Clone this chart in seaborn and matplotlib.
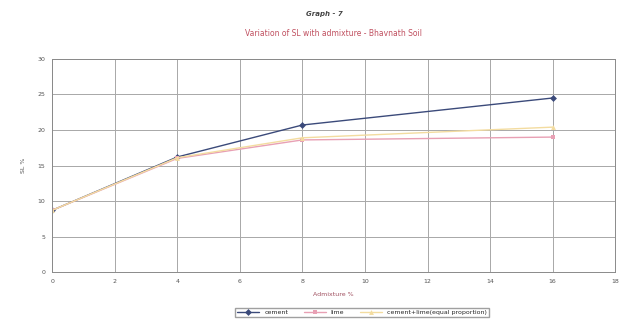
import matplotlib
matplotlib.use("Agg")
import matplotlib.pyplot as plt
import seaborn as sns
import pandas as pd

# Shrinkage limit (%) against admixture content (%)
admixture = [0, 4, 8, 16]
sl_cement = [8.7, 16.2, 20.7, 24.5]
sl_lime = [8.7, 16.0, 18.6, 19.0]
sl_cement_lime = [8.7, 16.1, 18.9, 20.4]

series_names = ["cement", "lime", "cement+lime(equal proportion)"]
x_ticks = [0, 2, 4, 6, 8, 10, 12, 14, 16, 18]
y_ticks = [0, 5, 10, 15, 20, 25, 30]

df = pd.DataFrame({
    "admixture": admixture * 3,
    "sl": sl_cement + sl_lime + sl_cement_lime,
    "series": [series_names[0]] * 4 + [series_names[1]] * 4 + [series_names[2]] * 4,
})

sns.set_theme(style="white")
plt.rcParams["font.family"] = ["DejaVu Sans"]

fig = plt.figure(figsize=(6.29, 3.22), dpi=100)
ax = fig.add_axes([0.083, 0.155, 0.895, 0.662])

palette = {series_names[0]: "#3b4a7a", series_names[1]: "#e8a0b4", series_names[2]: "#f3dca0"}
markers = {series_names[0]: "D", series_names[1]: "s", series_names[2]: "^"}
sns.lineplot(data=df, x="admixture", y="sl", hue="series", style="series",
             palette=palette, markers=markers, dashes=False, markersize=3.5,
             linewidth=1.0, markeredgewidth=0, ax=ax, legend=True)

ax.set_xlim(0, 18)
ax.set_ylim(0, 30)
ax.set_xticks(x_ticks)
ax.set_yticks(y_ticks)
ax.tick_params(axis="both", labelsize=4.5, colors="#555555", length=0, pad=5)
ax.grid(True, color="#a8a8a8", linewidth=0.7)
for s in ax.spines.values():
    s.set_color("#8a8a8a")
    s.set_linewidth(0.7)

ax.set_xlabel("Admixture %", fontsize=4.5, color="#a05060", labelpad=6)
ax.set_ylabel("SL %", fontsize=4.5, color="#555555", labelpad=8)

fig.text(0.515, 0.955, "Graph - 7", ha="center", va="center", fontsize=5,
         fontweight="bold", fontstyle="italic", color="#444444")
fig.text(0.53, 0.895, "Variation of SL with admixture - Bhavnath Soil", ha="center",
         va="center", fontsize=5.5, color="#c05060")

handles, labels = ax.get_legend_handles_labels()
ax.legend(handles, labels, loc="center", bbox_to_anchor=(0.55, -0.19), ncol=3,
          fontsize=4.5, frameon=True, fancybox=False, edgecolor="#888888",
          handlelength=3.5, columnspacing=2.5, borderpad=0.35)

fig.savefig("out.png", dpi=100)
